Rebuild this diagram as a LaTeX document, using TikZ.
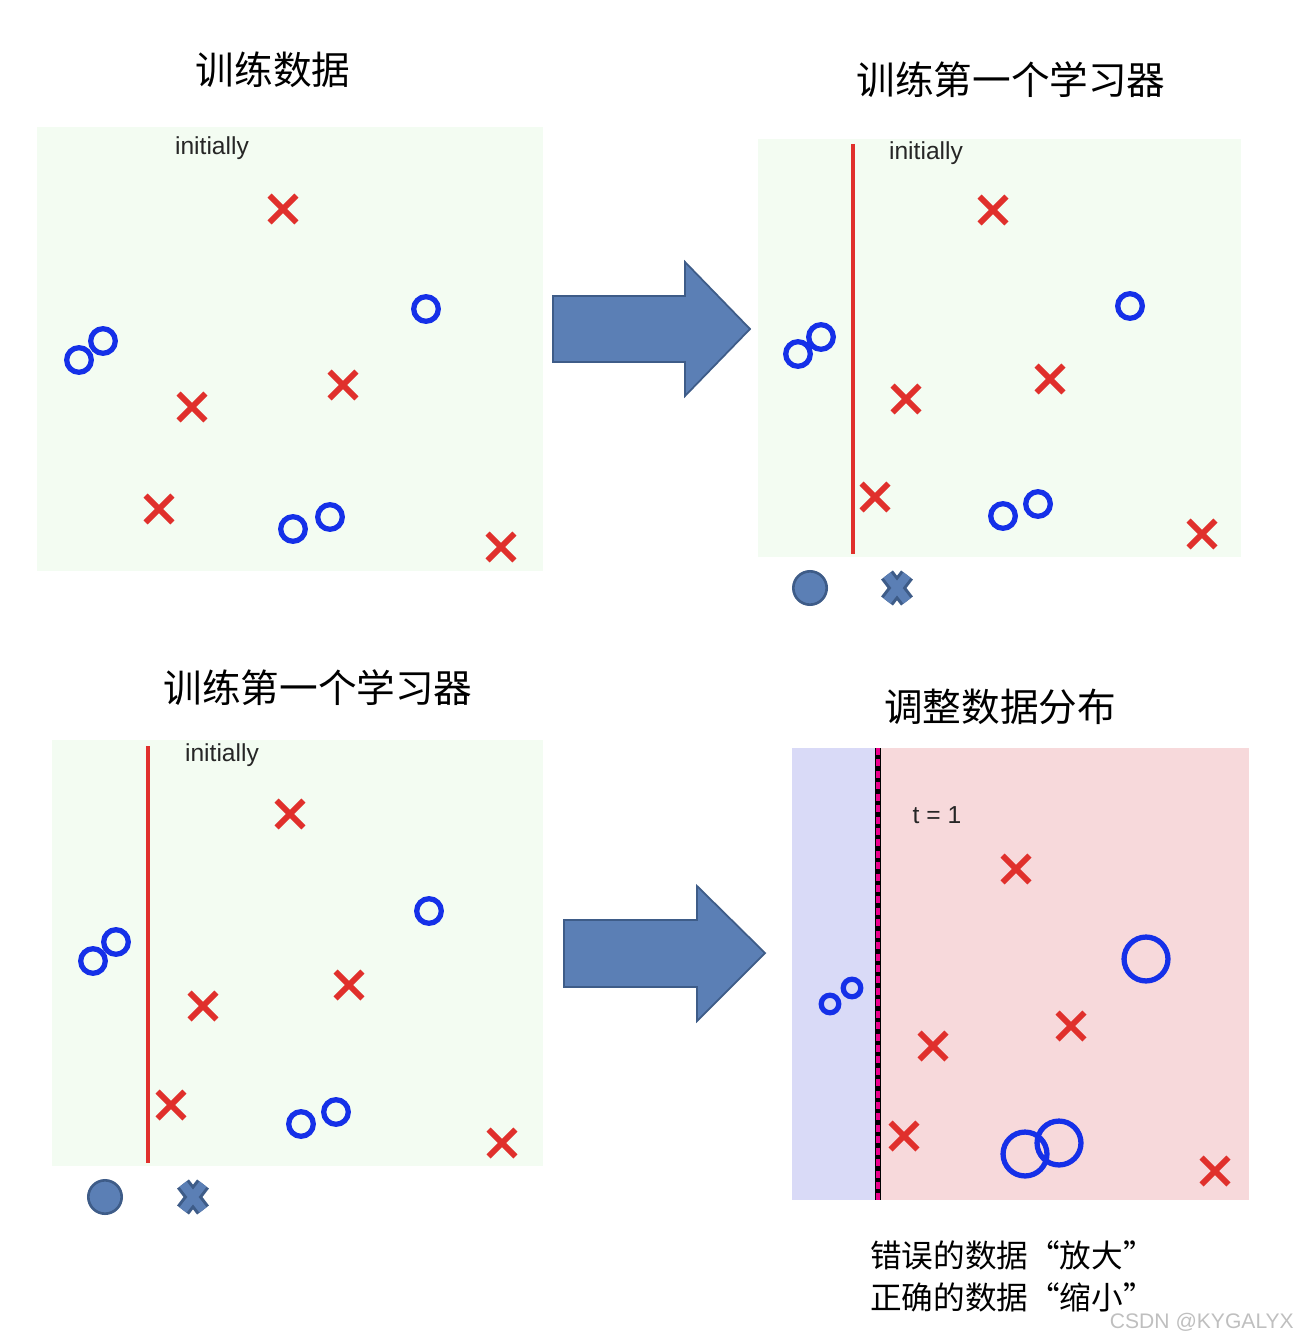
\documentclass[tikz,border=0pt]{standalone}
\usepackage{fontspec}
\setmainfont{Liberation Sans}
\newfontfamily\cjk{Noto Sans CJK SC}
\usetikzlibrary{positioning,arrows.meta,shapes.misc,calc}
\definecolor{boxgreen}{HTML}{F3FCF2}
\definecolor{xred}{HTML}{E0302C}
\definecolor{oblue}{HTML}{1530E8}
\definecolor{arrfill}{HTML}{5B7FB5}
\definecolor{arrdraw}{HTML}{3E5C88}
\definecolor{leftblue}{HTML}{D9DAF7}
\definecolor{rightred}{HTML}{F7D9DB}
\tikzset{
  title/.style={font=\cjk\fontsize{22}{26}\selectfont},
  note/.style={font=\fontsize{14}{16}\selectfont, text=black!85},
  panel/.style={fill=boxgreen, draw=none},
  cross/.style={cross out, draw=xred, line width=3.3pt, minimum size=12pt, inner sep=0pt},
  ring/.style={circle, draw=oblue, line width=3pt, minimum size=#1, inner sep=0pt},
  ring/.default=14pt,
  split/.style={draw=xred, line width=2.6pt},
  bigarrow/.style={fill=arrfill, draw=arrdraw, line width=1pt},
  dot/.style={circle, fill=arrfill, draw=arrdraw, line width=1.5pt, minimum size=19pt},
  xout/.style={arrdraw, line width=8.5pt},
  xin/.style={arrfill, line width=5pt},
}
\begin{document}
\begin{tikzpicture}[x=0.02cm, y=-0.02cm]
  \useasboundingbox (0,0) rectangle (1302,1344);

  % panel 1
  \fill[panel] (37,127) rectangle (543,571);
  \node[title] (t1) at (273,70) {训练数据};
  \node[note] (i1) at (212,148) {initially};
  \foreach \p [count=\k] in {(283,209),(192,407),(343,385),(159,509),(501,547)}
    \node[cross] (a\k) at \p {};
  \foreach \p [count=\k] in {(426,309),(79,360),(103,341),(293,529),(330,517)}
    \node[ring] (ao\k) at \p {};

  % arrow 1
  \draw[bigarrow] (553,296) -- (685,296) -- (685,262) -- (750,329)
    -- (685,396) -- (685,362) -- (553,362) -- cycle;

  % panel 2
  \fill[panel] (758,139) rectangle (1241,557);
  \node[title] (t2) at (1011,80) {训练第一个学习器};
  \node[note] (i2) at (926,153) {initially};
  \coordinate (s2a) at (853,144);
  \coordinate (s2b) at (853,554);
  \draw[split] (s2a) -- (s2b);
  \foreach \p [count=\k] in {(993,210),(906,399),(1050,379),(875,497),(1202,534)}
    \node[cross] (b\k) at \p {};
  \foreach \p [count=\k] in {(1130,306),(798,354),(821,337),(1003,516),(1038,504)}
    \node[ring] (bo\k) at \p {};
  \node[dot] (bd) at (810,588) {};
  \coordinate (bx) at (897,588);
  \draw[xout] ($(bx)+(-10,-13)$) -- ($(bx)+(10,13)$) ($(bx)+(10,-13)$) -- ($(bx)+(-10,13)$);
  \draw[xin] ($(bx)+(-10,-13)$) -- ($(bx)+(10,13)$) ($(bx)+(10,-13)$) -- ($(bx)+(-10,13)$);

  % panel 3
  \fill[panel] (52,740) rectangle (543,1166);
  \node[title] (t3) at (318,688) {训练第一个学习器};
  \node[note] (i3) at (222,755) {initially};
  \coordinate (s3a) at (148,746);
  \coordinate (s3b) at (148,1163);
  \draw[split] (s3a) -- (s3b);
  \foreach \p [count=\k] in {(290,814),(203,1006),(349,985),(171,1105),(502,1143)}
    \node[cross] (c\k) at \p {};
  \foreach \p [count=\k] in {(429,911),(93,961),(116,942),(301,1124),(336,1112)}
    \node[ring] (co\k) at \p {};
  \node[dot] (cd) at (105,1197) {};
  \coordinate (cx) at (193,1197);
  \draw[xout] ($(cx)+(-10,-13)$) -- ($(cx)+(10,13)$) ($(cx)+(10,-13)$) -- ($(cx)+(-10,13)$);
  \draw[xin] ($(cx)+(-10,-13)$) -- ($(cx)+(10,13)$) ($(cx)+(10,-13)$) -- ($(cx)+(-10,13)$);

  % arrow 2
  \draw[bigarrow] (564,920) -- (697,920) -- (697,886) -- (765,953)
    -- (697,1021) -- (697,987) -- (564,987) -- cycle;

  % panel 4
  \fill[leftblue] (792,748) rectangle (878,1200);
  \fill[rightred] (878,748) rectangle (1249,1200);
  \coordinate (s4a) at (878,748);
  \coordinate (s4b) at (878,1200);
  \draw[black, line width=3pt] (s4a) -- (s4b);
  \draw[magenta, line width=2pt, dash pattern=on 4pt off 2.5pt] (s4a) -- (s4b);
  \node[title] (t4) at (1000,707) {调整数据分布};
  \node[note] (i4) at (937,815) {t = 1};
  \foreach \p [count=\k] in {(1016,869),(933,1046),(1071,1026),(904,1136),(1215,1171)}
    \node[cross] (d\k) at \p {};
  \node[ring=10pt] (do1) at (830,1004) {};
  \node[ring=10pt] (do2) at (852,988) {};
  \node[ring=25pt] (do3) at (1146,959) {};
  \node[ring=25pt] (do4) at (1025,1154) {};
  \node[ring=25pt] (do5) at (1059,1143) {};
  \node[font=\cjk\fontsize{18}{24}\selectfont, anchor=west, align=left] (cap) at (864,1276)
    {错误的数据“放大”\\正确的数据“缩小”};
  \node[font=\fontsize{12}{14}\selectfont, text=black!25, anchor=east] (wm) at (1300,1322) {CSDN @KYGALYX};
\end{tikzpicture}
\end{document}
